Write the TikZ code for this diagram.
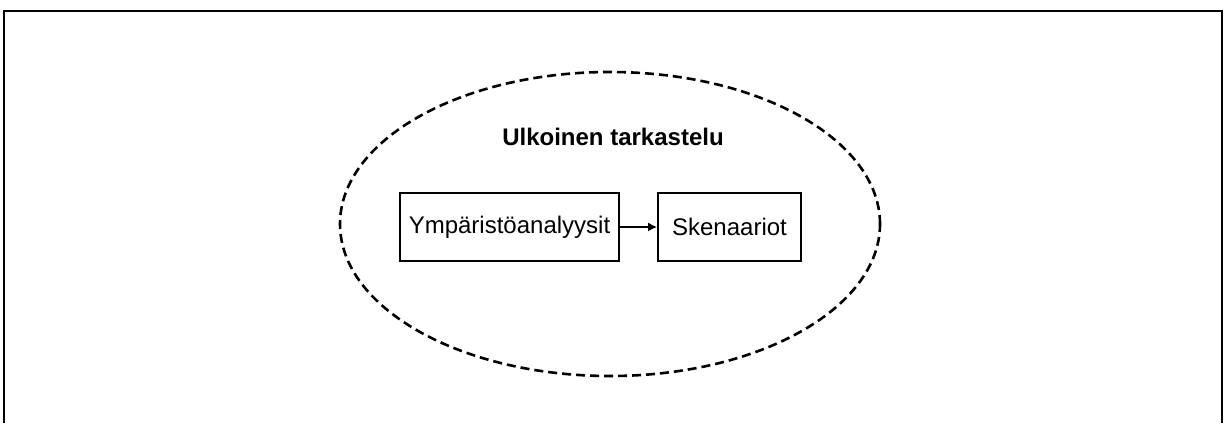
\documentclass[tikz,border=0pt]{standalone}
\usepackage{fontspec}
\setmainfont{Liberation Sans}
\usetikzlibrary{positioning, arrows.meta, shapes.geometric}

\begin{document}
\begin{tikzpicture}[
  x=0.5pt, y=-0.5pt,
  box/.style={draw, line width=0.8pt, minimum height=34pt, inner sep=2pt, font=\fontsize{12}{14}\selectfont},
  zone/.style={draw, ellipse, line width=1.3pt, dash pattern=on 4.5pt off 2.5pt, minimum width=270pt, minimum height=152pt},
]
  \useasboundingbox (0,0) rectangle (1224,423);
  \draw[line width=1.3pt] (4,423) -- (4,11) -- (1222,11) -- (1222,423);

  \node[zone] (outer) at (610,224) {};
  \node[font=\fontsize{12}{14}\selectfont\bfseries] (title) at (613,137) {Ulkoinen tarkastelu};

  \node[box, minimum width=109.5pt] (ymp) at (509.5,227) {Ympäristöanalyysit};
  \node[box, minimum width=71.5pt] (sken) at (729.5,227) {Skenaariot};
  \draw[-{Latex[length=4.5pt,width=4.5pt]}, line width=1.2pt] (ymp) -- (sken);
\end{tikzpicture}
\end{document}
